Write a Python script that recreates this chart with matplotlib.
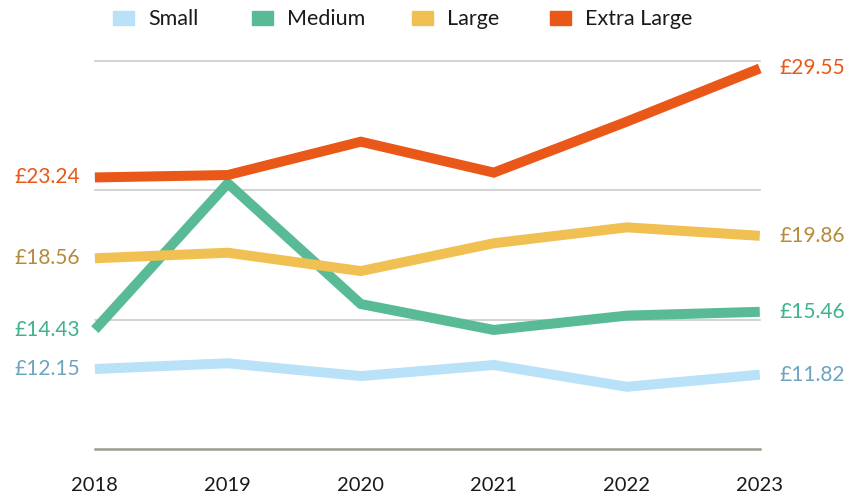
import matplotlib.pyplot as plt
from matplotlib.patches import Rectangle

plt.rcParams['font.family'] = ['Lato', 'DejaVu Sans']

years = [2018, 2019, 2020, 2021, 2022, 2023]
small = [12.15, 12.48, 11.74, 12.38, 11.12, 11.82]
medium = [14.43, 22.90, 15.91, 14.41, 15.24, 15.46]
large = [18.56, 18.88, 17.82, 19.43, 20.35, 19.86]
extra_large = [23.24, 23.38, 25.31, 23.52, 26.47, 29.55]

series = [
    ('Small', small, '#b9e1f8', '#6ea4bf'),
    ('Medium', medium, '#58bb96', '#3fb38c'),
    ('Large', large, '#f0c052', '#b8893a'),
    ('Extra Large', extra_large, '#e95818', '#e95818'),
]

fig = plt.figure(figsize=(8.47, 4.99), dpi=100)
ax = fig.add_axes([0.112, 0.0996, 0.785, 0.7788])
ax.set_xlim(2018, 2023)
ax.set_ylim(7.5, 30)

for y in [15, 22.5, 30]:
    ax.axhline(y, color='#cccccc', lw=1.2, zorder=0, clip_on=False)
ax.axhline(7.5, color='#9c9c93', lw=1.8, zorder=0, clip_on=False)

for name, vals, color, label_color in series:
    ax.plot(years, vals, color=color, lw=7.2, solid_joinstyle='miter',
            solid_capstyle='butt', clip_on=False, zorder=2)
    ax.annotate(f'£{vals[0]:.2f}', (years[0], vals[0]), xytext=(-11, 0),
                textcoords='offset points', ha='right', va='center',
                fontsize=15, color=label_color)
    ax.annotate(f'£{vals[-1]:.2f}', (years[-1], vals[-1]), xytext=(14, 0),
                textcoords='offset points', ha='left', va='center',
                fontsize=15, color=label_color)

ax.set_xticks(years)
ax.set_xticklabels([str(y) for y in years], fontsize=14.5, color='#1a1a1a')
ax.tick_params(axis='x', length=0, pad=20)
ax.set_yticks([])
for s in ax.spines.values():
    s.set_visible(False)

# legend: coloured swatches with labels along the top
legend_x = [113, 252, 412, 550]
for (name, vals, color, _), lx in zip(series, legend_x):
    fig.patches.append(Rectangle((lx / 847, 1 - 25 / 499), 21 / 847, 14 / 499,
                                 transform=fig.transFigure, color=color))
    fig.text((lx + 35) / 847, 1 - 19 / 499, name, fontsize=15.5,
             color='#1a1a1a', va='center', ha='left')

fig.savefig('out.png', dpi=100)
